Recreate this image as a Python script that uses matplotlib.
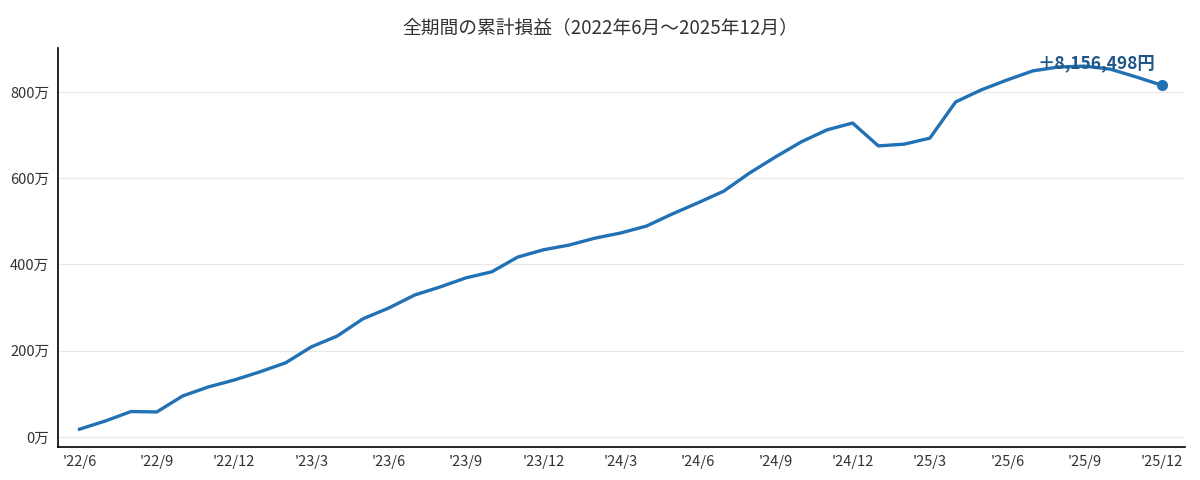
import matplotlib
matplotlib.use("Agg")
import matplotlib.pyplot as plt

plt.rcParams['font.family'] = ['Noto Sans CJK JP', 'DejaVu Sans']

# monthly cumulative P/L, in 万円, from 2022/6 to 2025/12
months = ["'22/6", "'22/7", "'22/8", "'22/9", "'22/10", "'22/11", "'22/12",
          "'23/1", "'23/2", "'23/3", "'23/4", "'23/5", "'23/6", "'23/7",
          "'23/8", "'23/9", "'23/10", "'23/11", "'23/12", "'24/1", "'24/2",
          "'24/3", "'24/4", "'24/5", "'24/6", "'24/7", "'24/8", "'24/9",
          "'24/10", "'24/11", "'24/12", "'25/1", "'25/2", "'25/3", "'25/4",
          "'25/5", "'25/6", "'25/7", "'25/8", "'25/9", "'25/10", "'25/11",
          "'25/12"]
cum_pl = [18, 37, 59, 58, 95, 116, 132, 151, 172, 209, 234, 274, 299, 329,
          348, 369, 383, 417, 434, 445, 461, 473, 489, 517, 543, 570, 612,
          649, 684, 712, 728, 675, 679, 693, 777, 805, 828, 849, 858, 860,
          853, 835, 815.6498]
final_label = "＋8,156,498円"
y_ticks = [0, 200, 400, 600, 800]

line_color = "#2271b5"
text_color = "#333333"

fig = plt.figure(figsize=(12, 4.8), dpi=100)
ax = fig.add_axes([0.048, 0.069, 0.9395, 0.831])

x = list(range(len(months)))
ax.plot(x, cum_pl, color=line_color, linewidth=2.4, solid_joinstyle="round", zorder=3)
ax.plot(x[-1], cum_pl[-1], "o", color=line_color, markersize=7, zorder=4)
ax.annotate(final_label, (x[-1], cum_pl[-1]), xytext=(-47, 16),
            textcoords="offset points", ha="center", va="center",
            fontsize=12.5, fontweight="bold", color="#1f5788", zorder=5)

ax.set_xlim(-0.85, 42.9)
ax.set_ylim(-23, 902)
ax.set_xticks(x[::3])
ax.set_xticklabels(months[::3])
ax.set_yticks(y_ticks)
ax.set_yticklabels([f"{v}万" for v in y_ticks])
ax.tick_params(length=0, labelsize=10.5, colors=text_color, pad=6)

ax.grid(axis="y", color="#e8e8e8", linewidth=0.9)
ax.set_axisbelow(True)
for side in ("top", "right"):
    ax.spines[side].set_visible(False)
for side in ("left", "bottom"):
    ax.spines[side].set_color("black")
    ax.spines[side].set_linewidth(1.2)

fig.suptitle("全期間の累計損益（2022年6月〜2025年12月）", fontsize=13.5,
             color=text_color, y=0.965)

fig.savefig("out.png", dpi=100)
